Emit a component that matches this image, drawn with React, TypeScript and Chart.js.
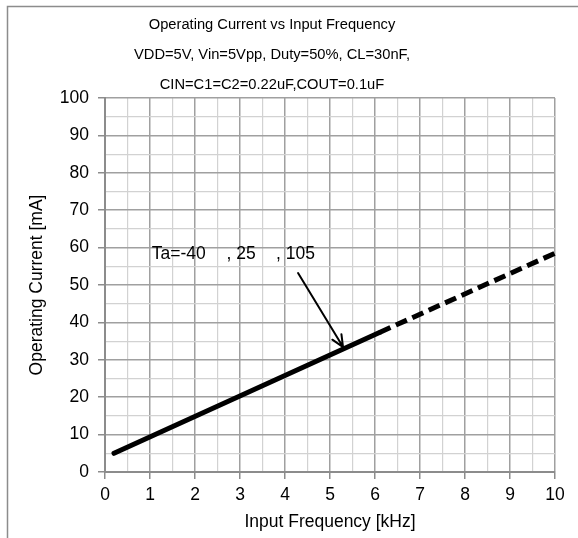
import { useEffect, useRef } from "react";
import { Chart, registerables } from "chart.js";

Chart.register(...registerables);

const FONT = '"Liberation Sans", Arial, Helvetica, sans-serif';

const titleLines = [
  "Operating Current vs Input Frequency",
  "VDD=5V, Vin=5Vpp, Duty=50%, CL=30nF,",
  "CIN=C1=C2=0.22uF,COUT=0.1uF",
];
const xAxisTitle = "Input Frequency [kHz]";
const yAxisTitle = "Operating Current [mA]";

// measured range (solid)
const measuredFreq = [0.2, 6.1];
const measuredCurrent = [5.0, 37.3];
// extrapolated range (dashed)
const extrapolatedFreq = [6.1, 10];
const extrapolatedCurrent = [37.3, 58.5];

// annotation
const annotationParts = ["Ta=-40", ", 25", ", 105"];
const annotationX = [1.04, 2.7, 3.8];
const annotationY = 58.2;
const arrowFrom = { x: 4.29, y: 53.2 };
const arrowTo = { x: 5.29, y: 33.4 };

const xMin = 0, xMax = 10, xStep = 0.5;
const yMin = 0, yMax = 100, yStep = 5;

const MAJOR = "#a0a0a0";
const MINOR = "#d2d2d2";

const decor = {
  id: "decor",
  beforeDraw(chart: any) {
    const ctx = chart.ctx;
    ctx.save();
    ctx.fillStyle = "#ffffff";
    ctx.fillRect(0, 0, chart.width, chart.height);
    ctx.strokeStyle = "#8c8c8c";
    ctx.lineWidth = 1.5;
    ctx.strokeRect(7.5, 6.5, chart.width + 20, chart.height + 20);
    ctx.restore();
  },
  afterDraw(chart: any) {
    const ctx = chart.ctx;
    const xs = chart.scales.x;
    const ys = chart.scales.y;
    const area = chart.chartArea;
    ctx.save();
    ctx.fillStyle = "#000";
    ctx.textBaseline = "middle";
    // title
    ctx.textAlign = "center";
    ctx.font = `14.7px ${FONT}`;
    titleLines.forEach((t, i) => ctx.fillText(t, 272, 25 + 30 * i));
    // axis titles
    ctx.font = `17.5px ${FONT}`;
    ctx.fillText(xAxisTitle, (area.left + area.right) / 2, 522);
    ctx.save();
    ctx.translate(37, (area.top + area.bottom) / 2);
    ctx.rotate(-Math.PI / 2);
    ctx.fillText(yAxisTitle, 0, 0);
    ctx.restore();
    // annotation text
    ctx.textAlign = "left";
    ctx.font = `17.5px ${FONT}`;
    annotationParts.forEach((t, i) =>
      ctx.fillText(t, xs.getPixelForValue(annotationX[i]), ys.getPixelForValue(annotationY))
    );
    // arrow
    const x1 = xs.getPixelForValue(arrowFrom.x), y1 = ys.getPixelForValue(arrowFrom.y);
    const x2 = xs.getPixelForValue(arrowTo.x), y2 = ys.getPixelForValue(arrowTo.y);
    ctx.strokeStyle = "#000";
    ctx.lineWidth = 2;
    ctx.lineCap = "round";
    ctx.beginPath();
    ctx.moveTo(x1, y1);
    ctx.lineTo(x2, y2);
    const ang = Math.atan2(y2 - y1, x2 - x1);
    const L = 13, spread = 0.42;
    ctx.moveTo(x2 - L * Math.cos(ang - spread), y2 - L * Math.sin(ang - spread));
    ctx.lineTo(x2, y2);
    ctx.lineTo(x2 - L * Math.cos(ang + spread), y2 - L * Math.sin(ang + spread));
    ctx.stroke();
    ctx.restore();
  },
};

const isMajorX = (v: number) => Math.abs(v - Math.round(v)) < 1e-9;
const isMajorY = (v: number) => Math.abs(v % 10) < 1e-9;

export default function App() {
  const ref = useRef<HTMLCanvasElement>(null);
  useEffect(() => {
    const canvas = ref.current!;
    const chart = new Chart(canvas, {
      type: "line",
      data: {
        datasets: [
          {
            data: measuredFreq.map((x, i) => ({ x, y: measuredCurrent[i] })),
            borderColor: "#000",
            borderWidth: 5,
            pointRadius: 0,
            borderCapStyle: "round",
            tension: 0,
            clip: false as any,
          },
          {
            data: extrapolatedFreq.map((x, i) => ({ x, y: extrapolatedCurrent[i] })),
            borderColor: "#000",
            borderWidth: 5,
            pointRadius: 0,
            borderDash: [12, 6],
            borderCapStyle: "butt",
            tension: 0,
            clip: false as any,
          },
        ],
      },
      options: {
        responsive: false,
        animation: false,
        devicePixelRatio: 1,
        layout: { padding: { top: 98, right: 23, left: 0, bottom: 0 } },
        plugins: {
          legend: { display: false },
          tooltip: { enabled: false },
          title: { display: false },
        },
        scales: {
          x: {
            type: "linear",
            min: xMin,
            max: xMax,
            afterFit: (s: any) => {
              s.height = 66;
            },
            ticks: {
              stepSize: xStep,
              autoSkip: false,
              maxRotation: 0,
              padding: 6,
              color: "#000",
              font: { family: FONT, size: 17.5 },
              callback: (v: any) => (isMajorX(Number(v)) ? String(Math.round(Number(v))) : ""),
            },
            grid: {
              color: (c: any) => (isMajorX(c.tick.value) ? MAJOR : MINOR),
              lineWidth: (c: any) => (isMajorX(c.tick.value) ? 1.5 : 1.2),
              tickLength: 7,
              tickColor: (c: any) => (isMajorX(c.tick.value) ? "#8c8c8c" : "rgba(0,0,0,0)"),
            },
            border: { color: "#8c8c8c", width: 2 },
          },
          y: {
            type: "linear",
            min: yMin,
            max: yMax,
            afterFit: (s: any) => {
              s.width = 105;
            },
            ticks: {
              stepSize: yStep,
              autoSkip: false,
              padding: 9,
              color: "#000",
              font: { family: FONT, size: 17.5 },
              callback: (v: any) => (isMajorY(Number(v)) ? String(v) : ""),
            },
            grid: {
              color: (c: any) => (isMajorY(c.tick.value) ? MAJOR : MINOR),
              lineWidth: (c: any) => (isMajorY(c.tick.value) ? 1.5 : 1.2),
              tickLength: 7,
              tickColor: (c: any) => (isMajorY(c.tick.value) ? "#8c8c8c" : "rgba(0,0,0,0)"),
            },
            border: { color: "#8c8c8c", width: 2 },
          },
        },
      } as any,
      plugins: [decor],
    });
    return () => chart.destroy();
  }, []);
  return (
    <canvas
      ref={ref}
      width={578}
      height={538}
      style={{ position: "absolute", left: 0, top: 0, display: "block" }}
    />
  );
}
